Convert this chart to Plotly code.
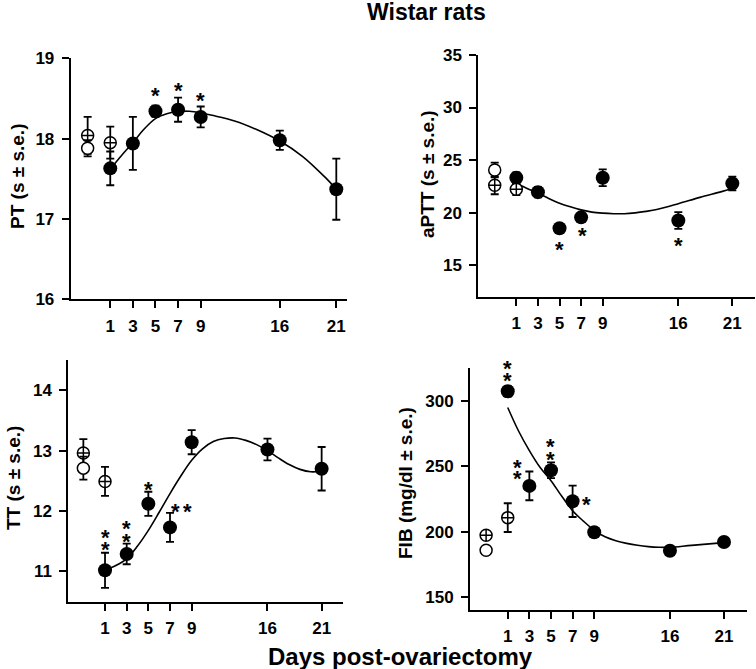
import plotly.graph_objects as go

W, H = 756, 669
FONT = "Liberation Sans, Arial, sans-serif"

# ---------------------------------------------------------------------------
# Data (days post-ovariectomy; -1 = control groups)
# ---------------------------------------------------------------------------
days = [1, 3, 5, 7, 9, 16, 21]
day_ticks = [1, 3, 5, 7, 9, 16, 21]

# PT (s)
pt_mean = [17.63, 17.94, 18.34, 18.36, 18.27, 17.98, 17.37]
pt_se = [0.21, 0.33, 0.07, 0.15, 0.13, 0.12, 0.38]
pt_sham_x, pt_sham, pt_sham_se = [-1, 1], [18.04, 17.95], [0.23, 0.20]
pt_ctrl_x, pt_ctrl, pt_ctrl_se = [-1], [17.88], [0.10]
pt_fit_x = [1, 2, 3, 4, 5, 6, 7, 8, 9, 10, 12, 14, 16, 18, 20, 21]
pt_fit = [17.62, 17.79, 17.95, 18.12, 18.25, 18.31, 18.34, 18.34, 18.32,
          18.29, 18.22, 18.11, 17.97, 17.78, 17.52, 17.37]

# aPTT (s)
aptt_mean = [23.32, 21.95, 18.52, 19.55, 23.32, 19.25, 22.78]
aptt_se = [0.5, 0.5, 0.3, 0.4, 0.8, 0.8, 0.65]
aptt_sham_x, aptt_sham, aptt_sham_se = [-1, 1], [22.6, 22.23], [0.85, 0.55]
aptt_ctrl_x, aptt_ctrl, aptt_ctrl_se = [-1], [24.05], [0.7]
aptt_fit_x = [1, 2, 3, 4, 5, 6, 7, 8, 9, 10, 11, 12, 13, 14, 16, 18, 20, 21]
aptt_fit = [22.8, 22.3, 21.85, 21.35, 20.9, 20.55, 20.26, 20.05, 19.95, 19.9,
            19.9, 19.98, 20.12, 20.3, 20.85, 21.45, 22.0, 22.3]

# TT (s)
tt_mean = [11.02, 11.29, 12.12, 11.73, 13.14, 13.02, 12.70]
tt_se = [0.29, 0.17, 0.2, 0.24, 0.2, 0.18, 0.36]
tt_sham_x, tt_sham, tt_sham_se = [-1, 1], [12.96, 12.49], [0.23, 0.24]
tt_ctrl_x, tt_ctrl, tt_ctrl_se = [-1], [12.71], [0.19]
tt_fit_x = [1, 2, 3, 4, 5, 6, 7, 8, 9, 10, 11, 12, 13, 14, 15, 16, 17, 18, 19, 20, 21]
tt_fit = [11.03, 11.1, 11.21, 11.42, 11.68, 11.98, 12.29, 12.58, 12.84, 13.03,
          13.15, 13.2, 13.21, 13.17, 13.1, 13.0, 12.88, 12.77, 12.69, 12.65, 12.66]

# FIB (mg/dl)
fib_mean = [307.4, 235.0, 247.0, 223.2, 199.5, 185.3, 192.0]
fib_se = [4, 11, 6, 12, 3, 2, 2]
fib_sham_x, fib_sham, fib_sham_se = [-1, 1], [197.2, 210.7], [2, 11]
fib_ctrl_x, fib_ctrl, fib_ctrl_se = [-1], [185.7], [2]
fib_fit_x = [1, 2, 3, 4, 5, 6, 7, 8, 9, 10, 11, 12, 13, 14, 15, 16, 18, 21]
fib_fit = [295, 277, 262, 249, 239, 227, 216, 208, 201, 196, 193, 191, 189.5,
           188.5, 188, 188, 189.5, 191.6]

# significance stars: (panel, day, text, dx px, dy px from point centre)
stars = [
    (0, 5, "*", 0, 20), (0, 7, "*", 0, 23), (0, 9, "*", 0, 20),
    (1, 5, "*", 0, -17), (1, 7, "*", 1, -14), (1, 16, "*", 0, -21),
    (2, 1, "*", 0, 37), (2, 1, "*", 0, 25), (2, 3, "*", 0, 29), (2, 3, "*", 0, 16),
    (2, 5, "*", 0, 18), (2, 7, "*", 5, 20), (2, 7, "*", 17, 20),
    (3, 1, "*", 0, 27), (3, 1, "*", 0, 15), (3, 3, "*", -12, 22), (3, 3, "*", -12, 11),
    (3, 5, "*", 0, 28), (3, 5, "*", 0, 15), (3, 7, "*", 14, 1),
]

panels = [
    dict(mean=pt_mean, se=pt_se, sx=pt_sham_x, s=pt_sham, sse=pt_sham_se,
         cx=pt_ctrl_x, c=pt_ctrl, cse=pt_ctrl_se, fx=pt_fit_x, f=pt_fit,
         xdom=[70.7, 346.7], ydom=[58.3, 299.3], xr=[-2.5, 21.92], yr=[16, 19],
         yt=[16, 17, 18, 19], title="PT (s ± s.e.)", tpos=(17, 177)),
    dict(mean=aptt_mean, se=aptt_se, sx=aptt_sham_x, s=aptt_sham, sse=aptt_sham_se,
         cx=aptt_ctrl_x, c=aptt_ctrl, cse=aptt_ctrl_se, fx=aptt_fit_x, f=aptt_fit,
         xdom=[478.3, 755], ydom=[55, 296.7], xr=[-2.52, 23.1], yr=[12, 35],
         yt=[15, 20, 25, 30, 35], title="aPTT (s ± s.e.)", tpos=(428, 174)),
    dict(mean=tt_mean, se=tt_se, sx=tt_sham_x, s=tt_sham, sse=tt_sham_se,
         cx=tt_ctrl_x, c=tt_ctrl, cse=tt_ctrl_se, fx=tt_fit_x, f=tt_fit,
         xdom=[68.3, 343.3], ydom=[360, 601.7], xr=[-2.39, 23.0], yr=[10.5, 14.5],
         yt=[11, 12, 13, 14], title="TT (s ± s.e.)", tpos=(13, 478)),
    dict(mean=fib_mean, se=fib_se, sx=fib_sham_x, s=fib_sham, sse=fib_sham_se,
         cx=fib_ctrl_x, c=fib_ctrl, cse=fib_ctrl_se, fx=fib_fit_x, f=fib_fit,
         xdom=[470, 746.7], ydom=[368.3, 610], xr=[-2.49, 23.1], yr=[140, 325],
         yt=[150, 200, 250, 300], title="FIB (mg/dl ± s.e.)", tpos=(405, 483)),
]

fig = go.Figure()


def err(vals):
    return dict(type="data", array=vals, visible=True, color="black", thickness=1.8, width=4)


layout_axes = {}
annotations = []
for i, p in enumerate(panels):
    n = "" if i == 0 else str(i + 1)
    xa, ya = "x" + n, "y" + n
    # fitted curve
    fig.add_trace(go.Scatter(x=p["fx"], y=p["f"], mode="lines", line_shape="spline",
                             line=dict(color="black", width=1.6), xaxis=xa, yaxis=ya,
                             hoverinfo="skip", showlegend=False))
    # ovariectomised rats
    fig.add_trace(go.Scatter(x=days, y=p["mean"], error_y=err(p["se"]), mode="markers",
                             marker=dict(symbol="circle", size=14, color="black"),
                             xaxis=xa, yaxis=ya, showlegend=False))
    # sham (crossed open circle)
    fig.add_trace(go.Scatter(x=p["sx"], y=p["s"], error_y=err(p["sse"]), mode="markers",
                             marker=dict(symbol="circle-cross", size=12, color="white",
                                         line=dict(color="black", width=1.5)),
                             xaxis=xa, yaxis=ya, showlegend=False))
    # intact control (open circle)
    fig.add_trace(go.Scatter(x=p["cx"], y=p["c"], error_y=err(p["cse"]), mode="markers",
                             marker=dict(symbol="circle", size=12, color="white",
                                         line=dict(color="black", width=1.5)),
                             xaxis=xa, yaxis=ya, showlegend=False))

    common = dict(showline=True, linecolor="black", linewidth=2, ticks="outside",
                  ticklen=7, tickwidth=2, tickcolor="black", showgrid=False, zeroline=False,
                  automargin=False,
                  tickfont=dict(family=FONT, size=17, color="black", weight="bold"))
    layout_axes["xaxis" + n] = dict(common, domain=[p["xdom"][0] / W, p["xdom"][1] / W],
                                    range=p["xr"], tickvals=day_ticks, anchor=ya,
                                    ticklabelstandoff=3)
    layout_axes["yaxis" + n] = dict(common, domain=[1 - p["ydom"][1] / H, 1 - p["ydom"][0] / H],
                                    range=p["yr"], tickvals=p["yt"], anchor=xa,
                                    ticklabelstandoff=4)
    annotations.append(dict(text=p["title"], x=p["tpos"][0] / W, y=1 - p["tpos"][1] / H,
                            xref="paper", yref="paper", textangle=-90, showarrow=False,
                            xanchor="center", yanchor="middle",
                            font=dict(family=FONT, size=19, color="black", weight="bold")))

for pi, day, txt, dx, dy in stars:
    p = panels[pi]
    n = "" if pi == 0 else str(pi + 1)
    yv = p["mean"][days.index(day)]
    annotations.append(dict(text=txt, x=day, y=yv, xref="x" + n, yref="y" + n,
                            showarrow=False, xanchor="center", yanchor="middle",
                            xshift=dx, yshift=dy - 4,
                            font=dict(family=FONT, size=22, color="black", weight="bold")))

annotations.append(dict(text="Wistar rats", x=427 / W, y=1 - 12.5 / H, xref="paper", yref="paper",
                        showarrow=False, xanchor="center", yanchor="middle",
                        font=dict(family=FONT, size=23, color="black", weight="bold")))
annotations.append(dict(text="Days post-ovariectomy", x=400 / W, y=1 - 656 / H, xref="paper",
                        yref="paper", showarrow=False, xanchor="center", yanchor="middle",
                        font=dict(family=FONT, size=24, color="black", weight="bold")))

fig.update_layout(width=W, height=H, margin=dict(l=0, r=0, t=0, b=0, autoexpand=False),
                  paper_bgcolor="white", plot_bgcolor="white", hovermode=False,
                  annotations=annotations, **layout_axes)

# the page body has a default 8px margin; drop it so the figure fills the window
fig.write_html("out.html", config={"displayModeBar": False},
               post_script="document.body.style.margin = '0px';")
